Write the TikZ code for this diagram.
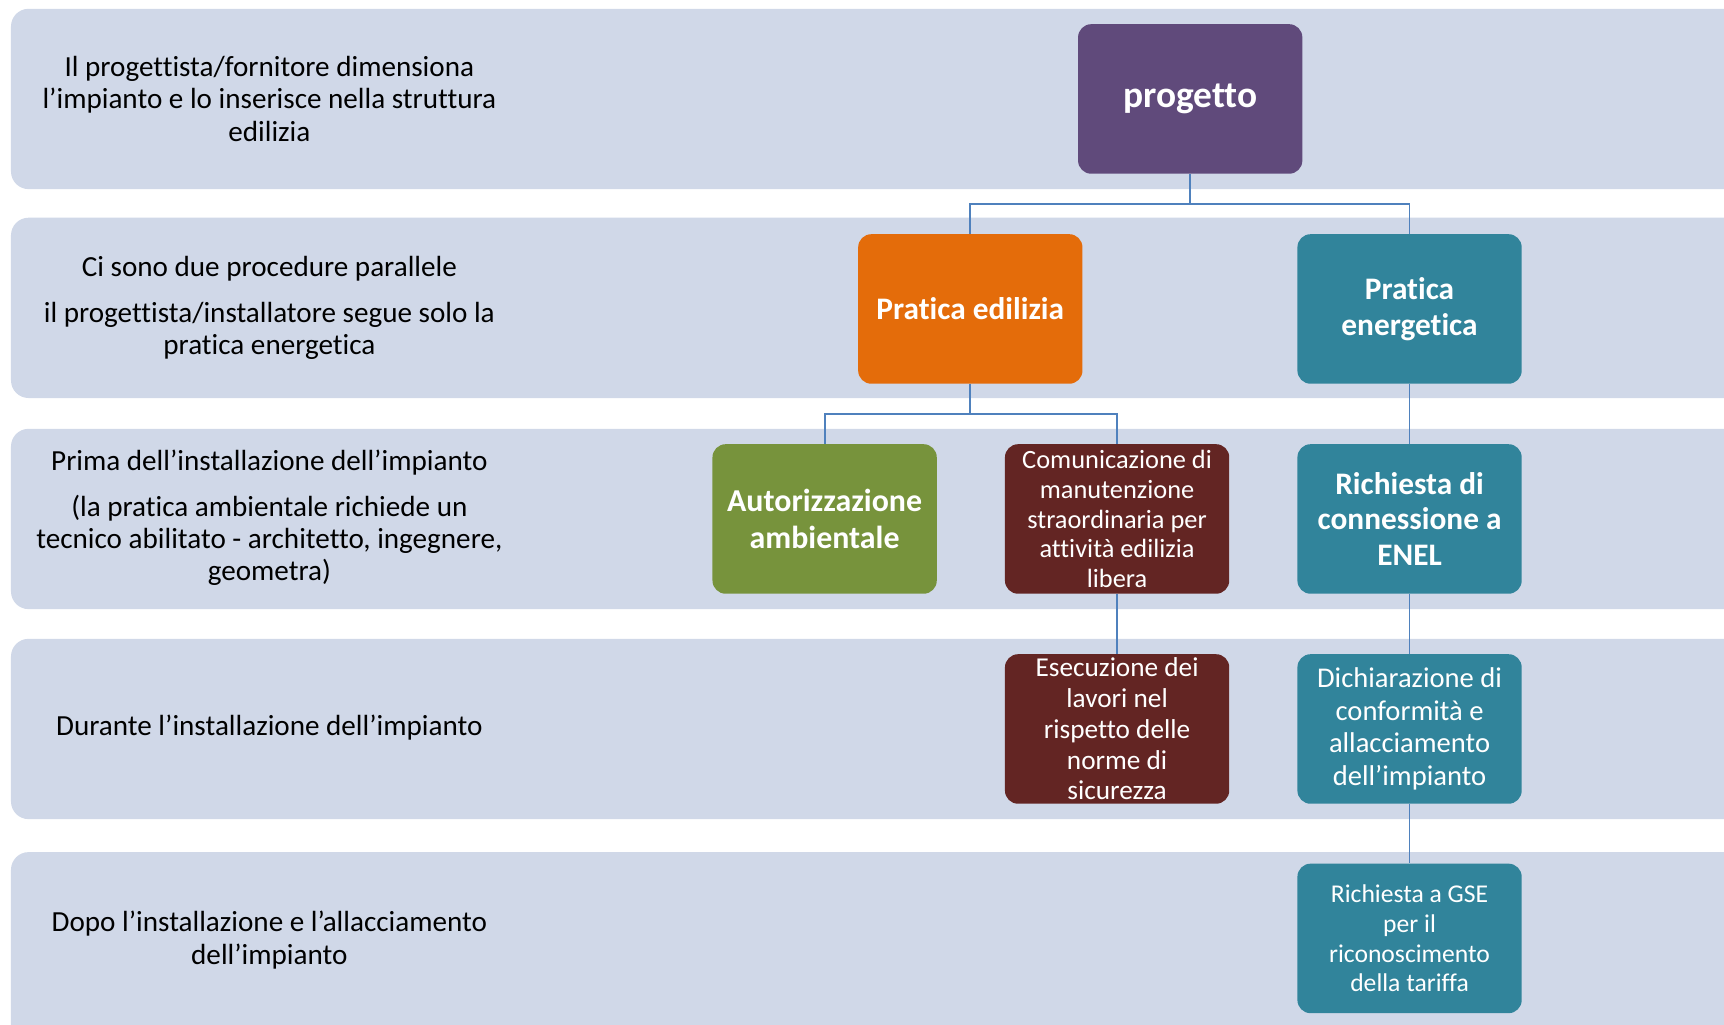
\documentclass[tikz,border=0pt]{standalone}
\usepackage{fontspec}
\setmainfont{Carlito}[Ligatures=NoCommon]
\definecolor{bandgrey}{HTML}{D0D8E8}
\definecolor{linkblue}{HTML}{4F81BD}
\definecolor{purplebox}{HTML}{604A7B}
\definecolor{orangebox}{HTML}{E46C0A}
\definecolor{tealbox}{HTML}{31849B}
\definecolor{greenbox}{HTML}{77933C}
\definecolor{redbox}{HTML}{632523}
\begin{document}
\begin{tikzpicture}[x=1pt, y=-1pt,
  box/.style={rounded corners=12pt, minimum width=204pt, minimum height=136pt, text width=198pt, align=flush center, inner sep=0pt, text=white, font=\fontsize{24}{27}\selectfont},
  bigbox/.style={box, font=\fontsize{28.5}{32.5}\selectfont\bfseries},
  link/.style={draw=linkblue, line width=1.6pt},
  band/.style={fill=bandgrey, rounded corners=16pt},
  note/.style={align=center, font=\fontsize{26.5}{29.5}\selectfont}]
\useasboundingbox (0,0) rectangle (1568,932);
\clip (0,0) rectangle (1568,932);
% bands
\fill[band] (10,8) rectangle (1620,172);
\fill[band] (10,198) rectangle (1620,362);
\fill[band] (10,390) rectangle (1620,554);
\fill[band] (10,581) rectangle (1620,745);
\fill[band] (10,775) rectangle (1620,970);
% left notes
\node[note] (n1) at (245,90) {Il progettista/fornitore dimensiona\\l’impianto e lo inserisce nella struttura\\edilizia};
\node[note] (n2) at (245,280) {Ci sono due procedure parallele\\[12pt]il progettista/installatore segue solo la\\pratica energetica};
\node[note] (n3) at (245,471) {Prima dell’installazione dell’impianto\\[12pt](la pratica ambientale richiede un\\tecnico abilitato - architetto, ingegnere,\\geometra)};
\node[note] (n4) at (245,662) {Durante l’installazione dell’impianto};
\node[note] (n5) at (245,855) {Dopo l’installazione e l’allacciamento\\dell’impianto};
% boxes
\node[bigbox, fill=purplebox, font=\fontsize{34}{38}\selectfont\bfseries] (progetto) at (1082.5,90) {progetto};
\node[bigbox, fill=orangebox] (edilizia) at (882.5,281) {Pratica edilizia};
\node[bigbox, fill=tealbox] (energetica) at (1282,281) {Pratica\\energetica};
\node[bigbox, fill=greenbox, font=\fontsize{29}{33}\selectfont\bfseries] (ambientale) at (750,472) {Autorizzazione\\ambientale};
\node[box, fill=redbox] (comunicazione) at (1016,472) {Comunicazione di\\manutenzione\\straordinaria per\\attività edilizia\\libera};
\node[bigbox, fill=tealbox] (enel) at (1282,472) {Richiesta di\\connessione a\\ENEL};
\node[box, fill=redbox, font=\fontsize{24.8}{28}\selectfont] (esecuzione) at (1016,663) {Esecuzione dei\\lavori nel\\rispetto delle\\norme di\\sicurezza};
\node[box, fill=tealbox, font=\fontsize{26}{29.5}\selectfont] (dichiarazione) at (1282,663) {Dichiarazione di\\conformità e\\allacciamento\\dell’impianto};
\node[box, fill=tealbox, font=\fontsize{23.3}{27}\selectfont] (gse) at (1282,853.5) {Richiesta a GSE\\per il\\riconoscimento\\della tariffa};
% connectors
\draw[link] (progetto.south) -- ++(0,27) -| (edilizia.north);
\draw[link] (progetto.south) -- ++(0,27) -| (energetica.north);
\draw[link] (edilizia.south) -- ++(0,27) -| (ambientale.north);
\draw[link] (edilizia.south) -- ++(0,27) -| (comunicazione.north);
\draw[link] (energetica) -- (enel);
\draw[link] (comunicazione) -- (esecuzione);
\draw[link] (enel) -- (dichiarazione);
\draw[link] (dichiarazione) -- (gse);
\end{tikzpicture}
\end{document}
